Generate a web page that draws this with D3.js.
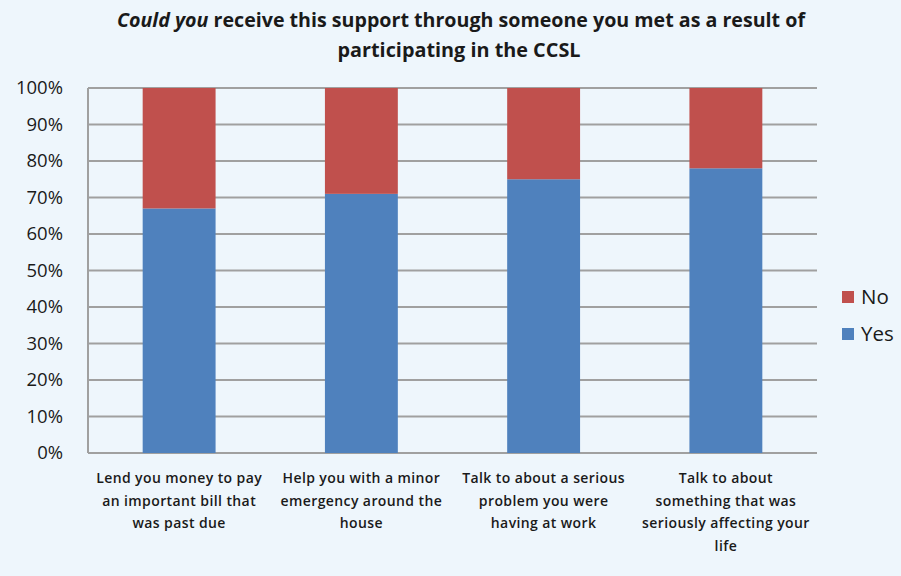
<!DOCTYPE html>
<html>
<head>
<meta charset="utf-8">
<script src="https://cdn.jsdelivr.net/npm/d3@7"></script>
<style>
  html, body { margin: 0; padding: 0; background: #EEF6FC; }
  svg { display: block; }
</style>
</head>
<body>
<svg id="chart" width="901" height="576"></svg>
<script>
// Categories (each label split into its printed lines)
const categories = [
  ["Lend you money to pay", "an important bill that", "was past due"],
  ["Help you with a minor", "emergency around the", "house"],
  ["Talk to about a serious", "problem you were", "having at work"],
  ["Talk to about", "something that was", "seriously affecting your", "life"]
];
const categoryKeys = ["money", "emergency", "work", "life"];
const yesValues = [0.67, 0.71, 0.75, 0.78];
const noValues  = [0.33, 0.29, 0.25, 0.22];
const yTicks = [0, 0.1, 0.2, 0.3, 0.4, 0.5, 0.6, 0.7, 0.8, 0.9, 1.0];
const seriesNames = ["Yes", "No"];
const seriesColors = ["#4F81BD", "#C0504D"];

const svg = d3.select("#chart");
const plot = { left: 88, right: 817, top: 88, bottom: 453 };

const x = d3.scaleBand().domain(categoryKeys).range([plot.left, plot.right]).padding(0);
const y = d3.scaleLinear().domain([0, 1]).range([plot.bottom, plot.top]);
const barW = x.bandwidth() / 2.5;

// Title
const title = svg.append("text")
  .attr("x", 461).attr("y", 27)
  .attr("text-anchor", "middle")
  .attr("font-family", "Open Sans, sans-serif")
  .attr("font-weight", "bold")
  .attr("font-size", 19)
  .attr("fill", "#1a1a1a")
  .attr("textLength", 688).attr("lengthAdjust", "spacingAndGlyphs");
title.append("tspan").attr("font-style", "italic").text("Could you");
title.append("tspan").text(" receive this support  through  someone you met as a result of");

svg.append("text")
  .attr("x", 459).attr("y", 57)
  .attr("text-anchor", "middle")
  .attr("font-family", "Open Sans, sans-serif")
  .attr("font-weight", "bold")
  .attr("font-size", 19)
  .attr("fill", "#1a1a1a")
  .attr("textLength", 243).attr("lengthAdjust", "spacingAndGlyphs")
  .text("participating  in the CCSL");

// Gridlines
svg.append("g")
  .selectAll("line")
  .data(yTicks)
  .join("line")
  .attr("x1", plot.left).attr("x2", plot.right)
  .attr("y1", d => y(d)).attr("y2", d => y(d))
  .attr("stroke", "#A0A0A0").attr("stroke-width", 2);

// Left axis line
svg.append("line")
  .attr("x1", plot.left).attr("x2", plot.left)
  .attr("y1", plot.top).attr("y2", plot.bottom)
  .attr("stroke", "#A0A0A0").attr("stroke-width", 2);

// Y axis labels
const yAxis = d3.axisLeft(y).tickValues(yTicks).tickFormat(d3.format(".0%")).tickSize(0).tickPadding(25);
const yg = svg.append("g").attr("transform", `translate(${plot.left},0)`).call(yAxis);
yg.select(".domain").remove();
yg.selectAll("text")
  .attr("font-family", "Open Sans, sans-serif")
  .attr("font-size", 18.5)
  .attr("fill", "#1a1a1a");

// Stacked bars
const rows = categoryKeys.map((k, i) => ({ key: k, Yes: yesValues[i], No: noValues[i] }));
const stack = d3.stack().keys(seriesNames)(rows);
svg.append("g")
  .selectAll("g")
  .data(stack)
  .join("g")
  .attr("fill", (d, i) => seriesColors[i])
  .selectAll("rect")
  .data(d => d)
  .join("rect")
  .attr("x", d => x(d.data.key) + (x.bandwidth() - barW) / 2)
  .attr("width", barW)
  .attr("y", d => y(d[1]))
  .attr("height", d => y(d[0]) - y(d[1]));

// X axis category labels
const xl = svg.append("g")
  .attr("font-family", "Open Sans, sans-serif")
  .attr("font-size", 14)
  .attr("font-weight", 600)
  .attr("letter-spacing", 0.4)
  .attr("fill", "#1a1a1a")
  .attr("text-anchor", "middle");
categoryKeys.forEach((k, i) => {
  const t = xl.append("text").attr("x", x(k) + x.bandwidth() / 2).attr("y", 483);
  categories[i].forEach((line, j) => {
    t.append("tspan").attr("x", x(k) + x.bandwidth() / 2).attr("dy", j === 0 ? 0 : 22.5).text(line);
  });
});

// Legend
const legend = svg.append("g");
const legendItems = [{ name: "No", color: seriesColors[1], y: 297 }, { name: "Yes", color: seriesColors[0], y: 334 }];
legendItems.forEach(item => {
  legend.append("rect").attr("x", 842).attr("y", item.y - 6).attr("width", 12).attr("height", 12).attr("fill", item.color);
  legend.append("text").attr("x", 861).attr("y", item.y + 7)
    .attr("font-family", "Open Sans, sans-serif").attr("font-size", 20.5)
    .attr("fill", "#1a1a1a").text(item.name);
});
</script>
</body>
</html>
